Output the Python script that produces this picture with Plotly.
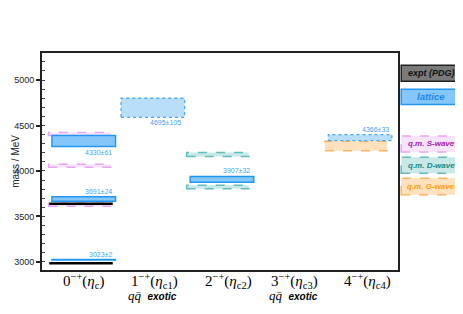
import plotly.graph_objects as go

# ---------------- data ----------------
categories = ["0<sup>−+</sup>(<i>η</i><sub>c</sub>)", "1<sup>−+</sup>(<i>η</i><sub>c1</sub>)",
              "2<sup>−+</sup>(<i>η</i><sub>c2</sub>)", "3<sup>−+</sup>(<i>η</i><sub>c3</sub>)",
              "4<sup>−+</sup>(<i>η</i><sub>c4</sub>)"]
exotic = [False, True, False, True, False]

# experiment (PDG) : category index, mass
expt_cat = [0, 0]
expt_mass = [2984, 3638]

# lattice : category index, mass, error, solid (True) or dotted (False), label above?
lat_cat = [0, 0, 0, 1, 2, 4]
lat_mass = [3023, 3691, 4330, 4695, 3907, 4366]
lat_err = [2, 24, 61, 105, 32, 33]
lat_solid = [True, True, True, False, True, False]
lat_label_above = [True, True, False, False, True, True]

# quark model predictions
qmS_cat = [0, 0, 0]
qmS_mass = [3628, 4058, 4406]
qmS_half = [16, 16, 17]
qmD_cat = [2, 2]
qmD_mass = [3824, 4180]
qmD_half = [20, 22]
qmG_cat = [4]
qmG_mass = [4275]
qmG_half = [52]

legend_names = ["expt (PDG)", "lattice", "q.m. S-wave", "q.m. D-wave", "q.m. G-wave"]

# ---------------- styles ----------------
LAT_FILL = "#85c6fb"
LAT_LINE = "#2196f3"
LATD_FILL = "#b8defa"
LATD_LINE = "#4aa8f0"
S_FILL, S_LINE, S_TXT = "#f7e4fb", "#e8a6f0", "#a020a8"
D_FILL, D_LINE, D_TXT = "#c9e9e8", "#62bdbb", "#138a88"
G_FILL, G_LINE, G_TXT = "#ffe2bd", "#ffb462", "#ff9a10"

fig = go.Figure()
fig.add_trace(go.Scatter(x=[0], y=[3000], mode="markers", marker=dict(opacity=0),
                         showlegend=False, hoverinfo="skip"))

shapes = []
annots = []

# q.m. boxes (drawn first, behind)
def qm_boxes(cats, masses, halves, fill, line):
    for c, m, h in zip(cats, masses, halves):
        shapes.append(dict(type="rect", xref="x", yref="y",
                           x0=c - 0.06 - 0.45, x1=c - 0.06 + 0.45,
                           y0=m - h, y1=m + h, fillcolor=fill,
                           line=dict(color=line, width=1.5, dash="dash"), layer="above"))

qm_boxes(qmS_cat, qmS_mass, qmS_half, S_FILL, S_LINE)
qm_boxes(qmD_cat, qmD_mass, qmD_half, D_FILL, D_LINE)
qm_boxes(qmG_cat, qmG_mass, qmG_half, G_FILL, G_LINE)

# experiment lines
for c, m in zip(expt_cat, expt_mass):
    shapes.append(dict(type="line", xref="x", yref="y", x0=c - 0.04 - 0.46, x1=c - 0.04 + 0.46,
                       y0=m, y1=m, line=dict(color="black", width=2.5), layer="above"))

# lattice boxes
for c, m, e, solid, above in zip(lat_cat, lat_mass, lat_err, lat_solid, lat_label_above):
    fill = LAT_FILL if solid else LATD_FILL
    line = LAT_LINE if solid else LATD_LINE
    shapes.append(dict(type="rect", xref="x", yref="y", x0=c - 0.46, x1=c + 0.46,
                       y0=m - e, y1=m + e, fillcolor=fill,
                       line=dict(color=line, width=1.5 if solid else 1.3,
                                 dash="solid" if solid else "dot"), layer="above"))
    annots.append(dict(x=c + 0.44, y=(m + e) if above else (m - e), xref="x", yref="y",
                       text=f"{m}±{e}", showarrow=False, xanchor="right",
                       yanchor="bottom" if above else "top",
                       font=dict(size=7, color="#3fa4f2", family="Liberation Sans, Arial")))

# category labels
label_x = [-0.01, 1.02, 2.10, 3.05, 4.11]
for i, (lab, ex) in enumerate(zip(categories, exotic)):
    annots.append(dict(x=label_x[i], y=-0.052, xref="x", yref="paper", text=lab,
                       showarrow=False, xanchor="center", yanchor="middle",
                       font=dict(size=15, color="black", family="Liberation Serif, serif")))
    if ex:
        annots.append(dict(x=label_x[i] - 0.02, y=-0.117, xref="x", yref="paper",
                           text="<i>q</i><i>q̄</i>  <b><i><span style='font-family:Liberation Sans, Arial;font-size:10px'>exotic</span></i></b>",
                           showarrow=False, xanchor="center", yanchor="middle",
                           font=dict(size=13, color="black", family="Liberation Serif, serif")))

# y axis title
annots.append(dict(x=-0.075, y=0.5, xref="paper", yref="paper", text="mass / MeV",
                   textangle=-90, showarrow=False, xanchor="center", yanchor="middle",
                   font=dict(size=10, color="#222", family="Liberation Sans, Arial")))

# legend boxes (outside plot, right)
leg_y = [(0.870, 0.943), (0.763, 0.833), (0.544, 0.618), (0.446, 0.520), (0.347, 0.423)]
leg_fill = ["#7a7a7a", LAT_FILL, S_FILL, D_FILL, G_FILL]
leg_line = ["#222222", LAT_LINE, S_LINE, D_LINE, G_LINE]
leg_dash = ["solid", "solid", "dash", "dash", "dash"]
leg_txt = ["#111111", "#1e88e5", S_TXT, D_TXT, G_TXT]
leg_size = [9, 9.5, 8, 8, 8]
for name, (y0, y1), fc, lc, ds, tc, fs in zip(legend_names, leg_y, leg_fill, leg_line,
                                              leg_dash, leg_txt, leg_size):
    shapes.append(dict(type="rect", xref="paper", yref="paper", x0=1.009, x1=1.177,
                       y0=y0, y1=y1, fillcolor=fc, line=dict(color=lc, width=1.5, dash=ds)))
    annots.append(dict(x=1.093, y=(y0 + y1) / 2, xref="paper", yref="paper",
                       text=f"<b><i>{name}</i></b>", showarrow=False,
                       xanchor="center", yanchor="middle",
                       font=dict(size=fs, color=tc, family="Liberation Sans, Arial")))

# the page adds an 8px body margin; margins are compensated for it
fig.update_layout(
    width=463, height=314,
    margin=dict(l=34, r=73, t=45, b=52, autoexpand=False),
    paper_bgcolor="white", plot_bgcolor="white",
    showlegend=False,
    shapes=shapes, annotations=annots,
    xaxis=dict(range=[-0.604, 4.548], showticklabels=False, ticks="", automargin=False,
               showgrid=False, zeroline=False, showline=True, linecolor="#222",
               linewidth=2, mirror=True),
    yaxis=dict(range=[2910, 5298], tickvals=[3000, 3500, 4000, 4500, 5000], automargin=False,
               ticks="outside", ticklen=4, tickwidth=1.5, tickcolor="#222",
               minor=dict(dtick=100, ticks="inside", ticklen=3, tickcolor="#444", tickwidth=1),
               showgrid=False, zeroline=False, showline=True, linecolor="#222",
               linewidth=2, mirror=True,
               tickfont=dict(size=9, color="#222", family="Liberation Sans, Arial")),
)

fig.write_html("out.html")
